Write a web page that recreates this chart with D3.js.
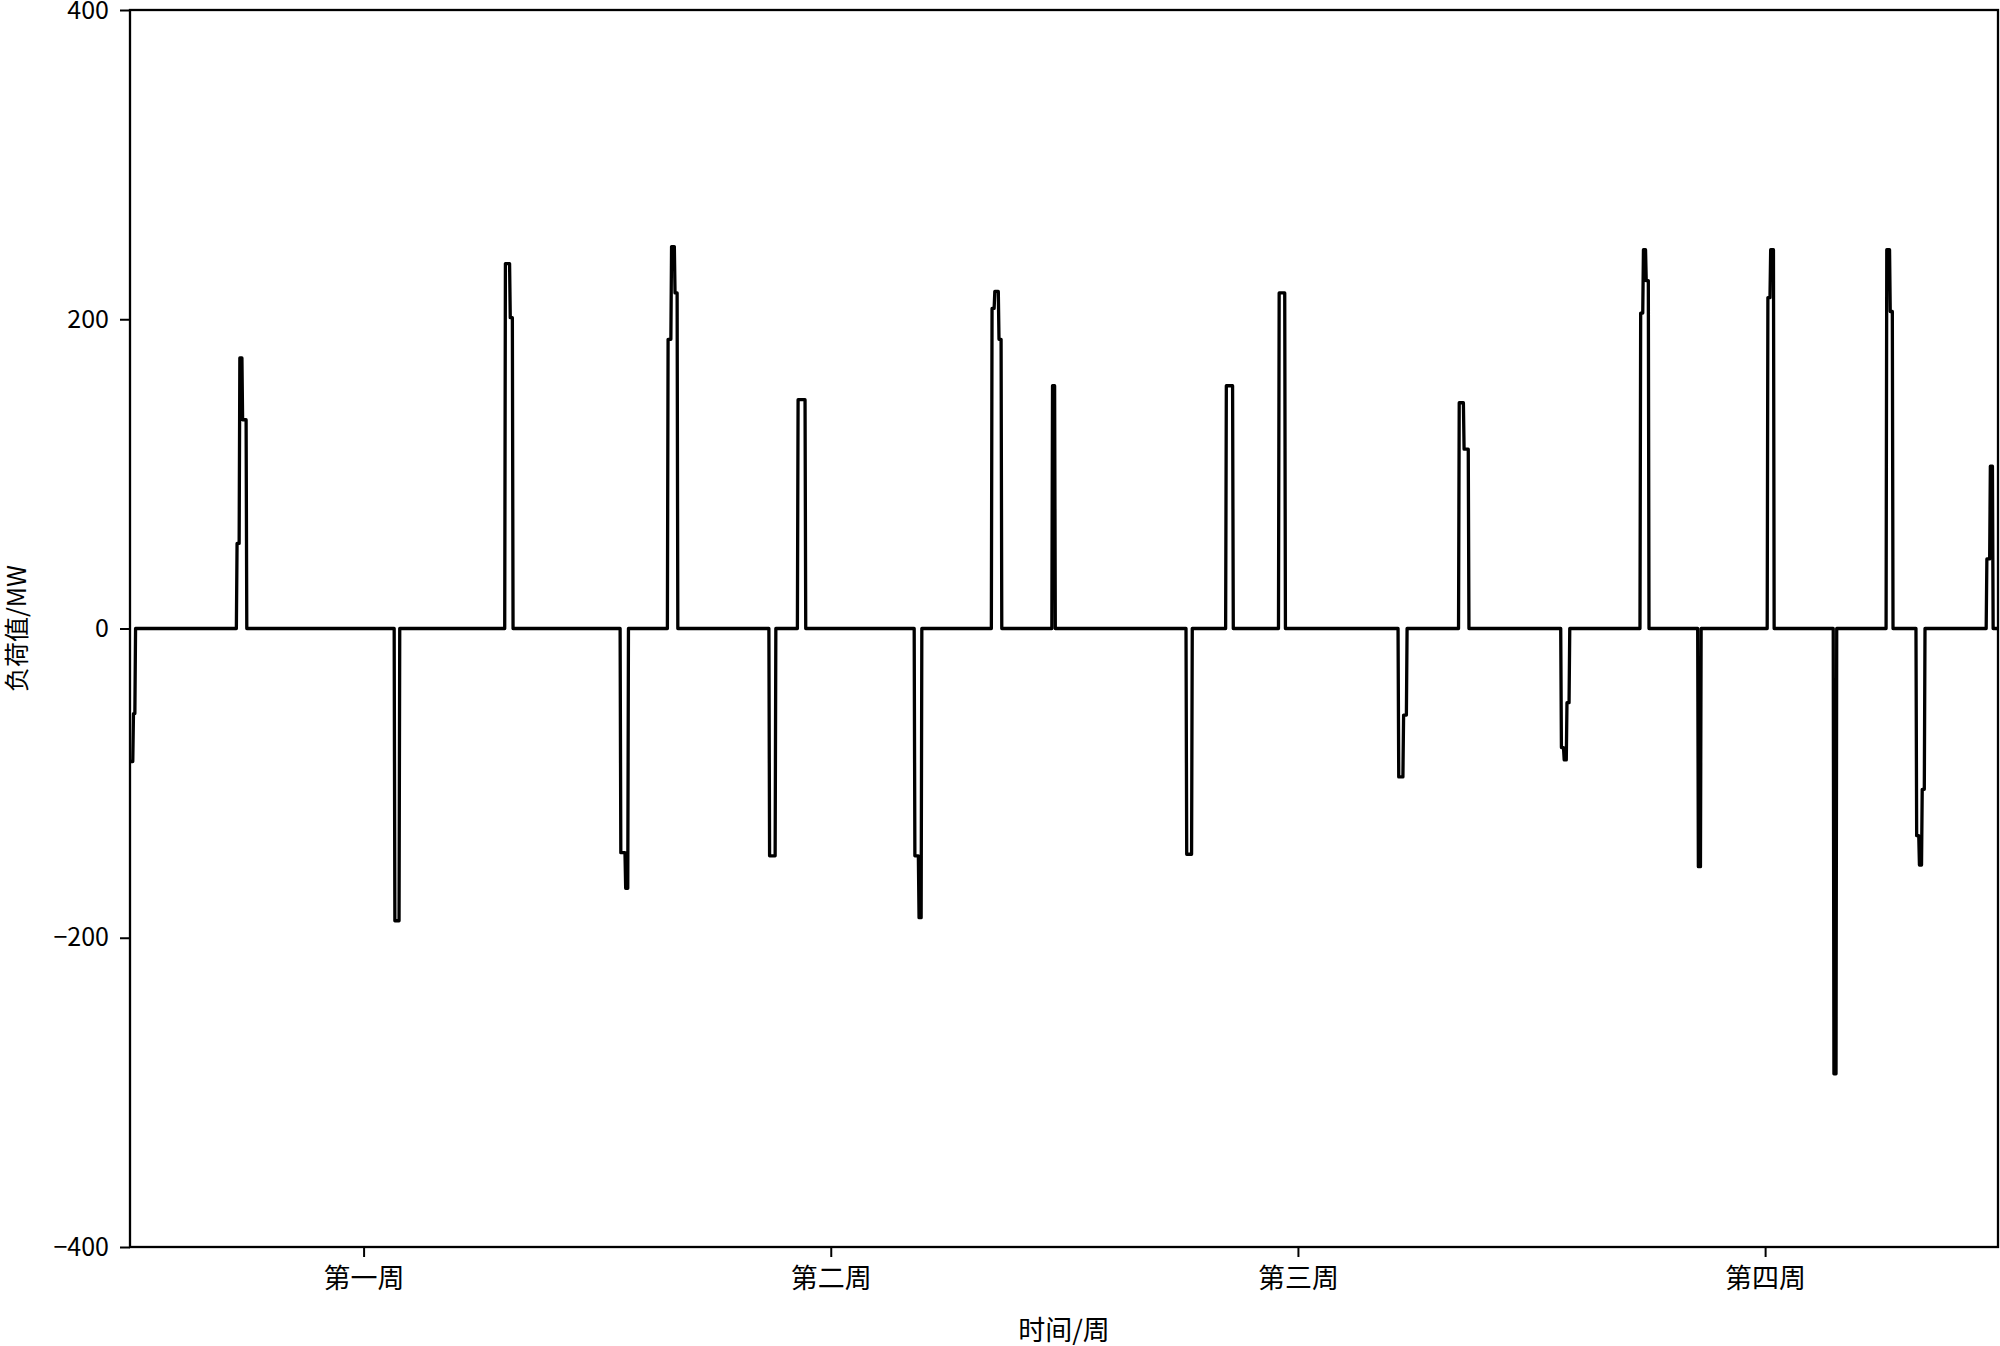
<!DOCTYPE html>
<html>
<head>
<meta charset="utf-8">
<script src="https://cdn.jsdelivr.net/npm/d3@7"></script>
<style>
  body { margin: 0; background: #fff; }
  svg text { font-family: "Noto Sans CJK SC", "DejaVu Sans", sans-serif; fill: #000; }
</style>
</head>
<body>
<div id="chart"></div>
<script>
// 4 weeks at 15 minute resolution
var nPoints = 4 * 7 * 24 * 4;

// week labels sit at the middle of each week (index in quarter hours)
var weekTicks = [336, 1008, 1680, 2352];
var weekLabels = ["第一周", "第二周", "第三周", "第四周"];
var yTicks = [-400, -200, 0, 200, 400];

// load events: start index, levels (MW), length of each level (quarter hours)
var eventStart = [0, 154, 381, 540, 706, 774, 920, 961, 1129, 1240, 1327, 1520, 1577, 1653,
                  1825, 1912, 2059, 2173, 2256, 2356, 2451, 2527, 2570, 2671];
var eventLevels = [
  [-86, -55], [55, 175, 135], [-189], [236, 201], [-145, -168], [187, 247, 217],
  [-147], [148], [-147, -187], [207, 218, 187], [157], [-146], [157], [217],
  [-96, -56], [146, 116], [-77, -85, -48], [204, 245, 225], [-154], [214, 245],
  [-288], [245, 205], [-134, -153, -104], [45, 105]
];
var eventLengths = [
  [5, 3], [4, 4, 6], [7], [7, 4], [7, 4], [5, 5, 4],
  [9], [11], [6, 4], [4, 6, 4], [4], [8], [10], [9],
  [7, 5], [7, 7], [4, 4, 4], [4, 4, 4], [4], [4, 5],
  [4], [5, 4], [4, 4, 4], [5, 4]
];

var load = new Array(nPoints).fill(0);
eventStart.forEach(function(s, i) {
  var pos = s;
  eventLevels[i].forEach(function(v, j) {
    for (var k = 0; k < eventLengths[i][j]; k++) load[pos++] = v;
  });
});

var W = 2000, H = 1346;
var margin = {top: 10, right: 2, bottom: 99, left: 130};
var width = W - margin.left - margin.right, height = H - margin.top - margin.bottom;

var svg = d3.select("#chart").append("svg").attr("width", W).attr("height", H);
var g = svg.append("g").attr("transform", "translate(" + margin.left + "," + margin.top + ")");

var x = d3.scaleLinear().domain([0, nPoints - 1]).range([0, width]);
var y = d3.scaleLinear().domain([-400, 400]).range([height, 0]);

var line = d3.line().x(function(d, i) { return x(i); }).y(function(d) { return y(d); });

g.append("path").datum(load)
  .attr("d", line)
  .attr("fill", "none")
  .attr("stroke", "#000")
  .attr("stroke-width", 3.3)
  .attr("stroke-linejoin", "round");

// frame
g.append("rect").attr("width", width).attr("height", height)
  .attr("fill", "none").attr("stroke", "#000").attr("stroke-width", 2.3);

var yAxis = g.append("g")
  .call(d3.axisLeft(y).tickValues(yTicks).tickSize(10).tickPadding(11));
var xAxis = g.append("g").attr("transform", "translate(0," + height + ")")
  .call(d3.axisBottom(x).tickValues(weekTicks).tickFormat(function(d, i) { return weekLabels[i]; })
    .tickSize(10).tickPadding(12));

[yAxis, xAxis].forEach(function(a) {
  a.select(".domain").remove();
  a.selectAll("line").attr("stroke", "#000").attr("stroke-width", 2);
  a.selectAll("text").style("font-family", '"Noto Sans CJK SC", sans-serif');
});
yAxis.selectAll("text").attr("font-size", 25);
xAxis.selectAll("text").attr("font-size", 27);

svg.append("text")
  .attr("x", margin.left + width / 2).attr("y", 1340)
  .attr("text-anchor", "middle").attr("font-size", 27)
  .text("时间/周");

svg.append("text")
  .attr("transform", "translate(26," + (margin.top + height / 2) + ") rotate(-90)")
  .attr("text-anchor", "middle").attr("font-size", 25)
  .text("负荷值/MW");
</script>
</body>
</html>
